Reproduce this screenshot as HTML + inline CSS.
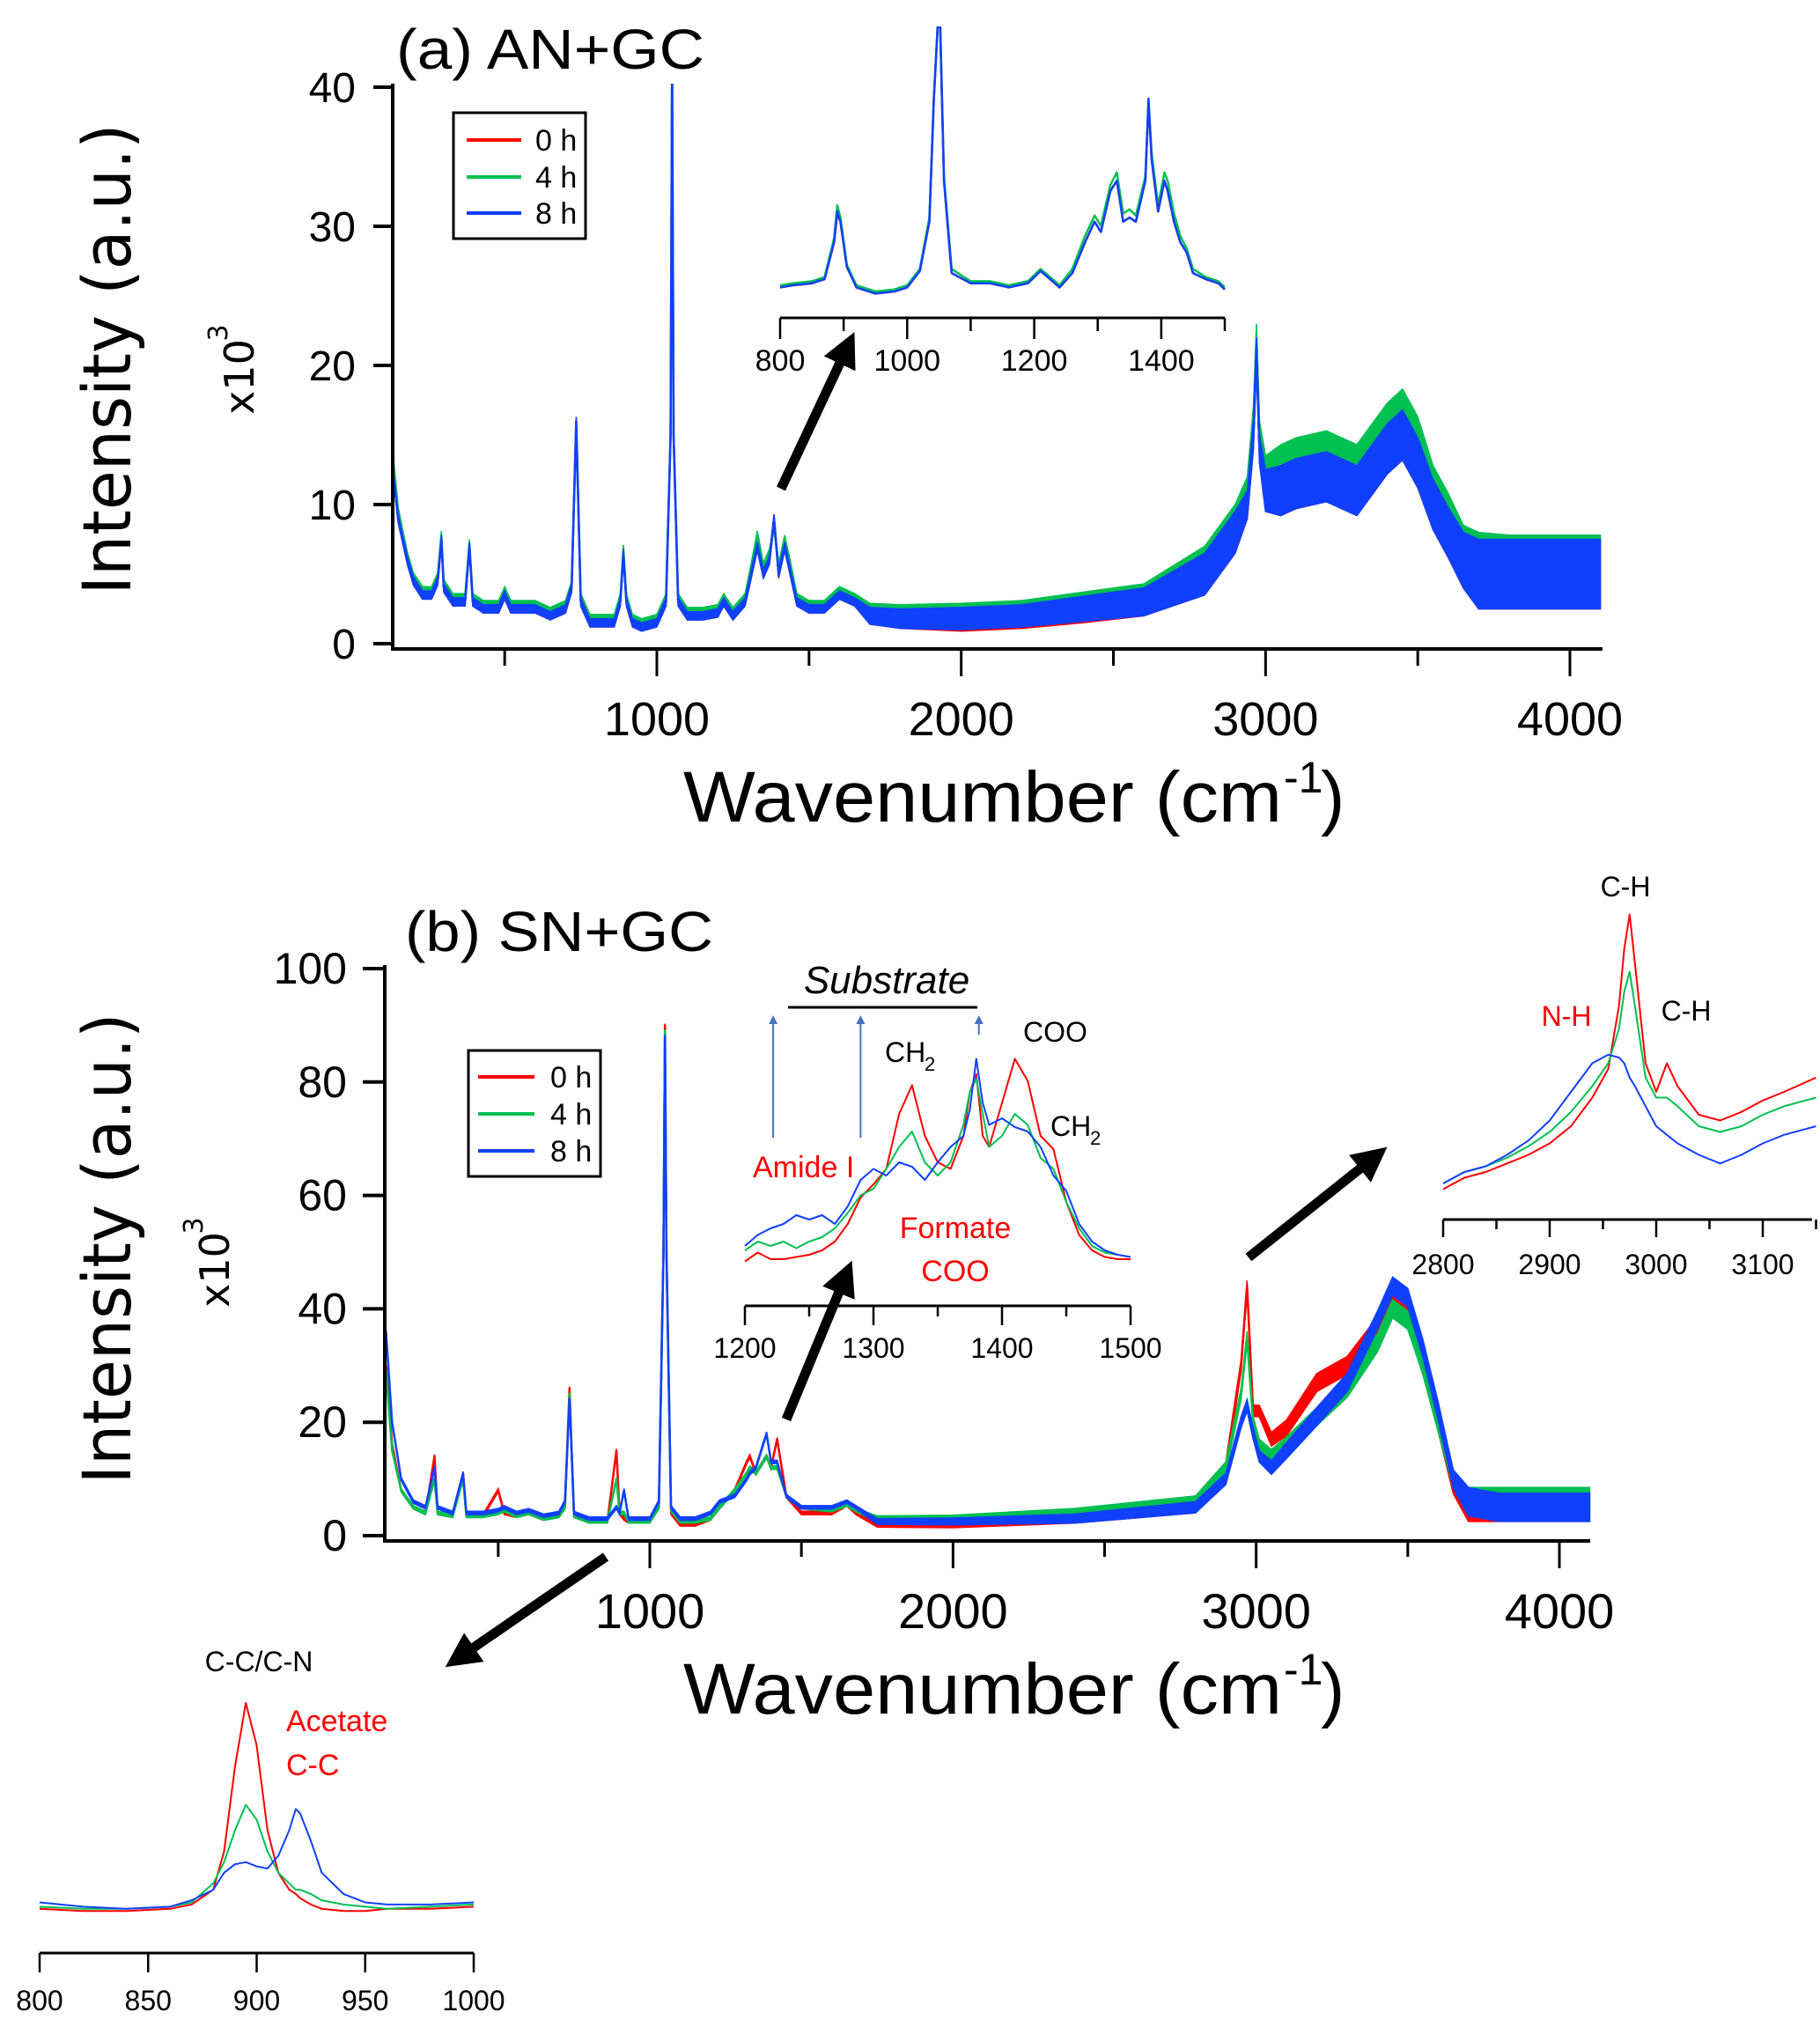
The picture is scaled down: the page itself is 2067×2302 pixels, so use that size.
<!DOCTYPE html>
<html><head><meta charset="utf-8"><style>
html,body{margin:0;padding:0;background:#fff;}
svg{display:block;font-family:"Liberation Sans",sans-serif;}
</style></head><body>
<svg id="fig" width="2067" height="2302" viewBox="0 0 2067 2302" xmlns="http://www.w3.org/2000/svg">
<defs>
<marker id="ah" viewBox="0 0 10 10" refX="5" refY="5" markerWidth="3.6" markerHeight="3.6" orient="auto"><path d="M0,0 L10,5 L0,10 z" fill="#000"/></marker>
<marker id="bh" viewBox="0 0 10 10" refX="5" refY="5" markerWidth="5" markerHeight="5" orient="auto"><path d="M0,0 L10,5 L0,10 z" fill="#4472c4"/></marker>
</defs>
<g id="layer"></g>
</svg>
<script>
// ---------- DATA ----------
const xA = [130,150,180,200,230,260,280,292,300,330,370,384,395,430,480,500,520,560,600,650,700,720,735,750,780,820,860,880,890,900,920,950,1000,1030,1045,1050,1055,1070,1100,1150,1200,1220,1250,1290,1310,1330,1350,1370,1385,1400,1420,1440,1460,1500,1550,1600,1650,1700,1800,2000,2200,2400,2600,2800,2900,2940,2960,2970,2980,3000,3050,3100,3200,3300,3400,3450,3500,3550,3600,3650,3700,3800,3900,4000,4100];
const aBlue = [13,9,6,4.5,3.5,3.5,4.5,7.5,4,3,3,7,3,2.5,2.5,3.5,2.5,2.5,2.5,2,2.5,4,16,3,1.5,1.5,1.5,3,6.5,3,1.5,1.2,1.5,3,15,42,15,3,2,2,2.2,3,2,3,5,7,5,6,9,5,7,5,3,2.5,2.5,3.5,3,2,1.8,1.8,2,2.5,3,5,8,10,15,21,14,11,11,11.5,12,11,14,15,13,10,8,6,5,5,5,5,5];
const aGreen = [14,9.5,6.3,4.8,3.8,3.8,4.8,7.8,4.3,3.3,3.3,7.2,3.3,2.8,2.8,3.8,2.8,2.8,2.8,2.3,2.8,4.2,15.5,3.3,1.8,1.8,1.8,3.3,6.8,3.3,1.8,1.5,1.8,3.3,15,41,15,3.3,2.3,2.3,2.5,3.3,2.3,3.3,5.5,7.8,5.5,6.5,8.5,5.5,7.5,5.5,3.3,2.8,2.8,3.8,3.3,2.3,2.1,2.1,2.3,2.8,3.3,5.5,8.5,11,16,22,15,12,12.5,13,13.5,12.5,15.5,16.5,14.5,11,9,6.5,5.5,5.3,5.3,5.3,5.3];
const aRed = [13,9,6,4.5,3.5,3.5,4.5,7.5,4,3,3,7,3,2.5,2.5,3.5,2.5,2.5,2.5,2,2.5,4,16,3,1.5,1.5,1.5,3,6.5,3,1.5,1.2,1.5,3,15,42,15,3,2,2,2.2,3,2,3,5,7,5,6,9,5,7,5,3,2.5,2.5,3.5,3,2,1.8,1.7,1.9,2.4,3,5,8,10,15,21,14,11,11,11.5,12,11,14,15,13,10,8,6,5,5,5,5,5];
const aNoise = [0.3,0.3,0.3,0.3,0.3,0.3,0.3,0.3,0.3,0.3,0.3,0.3,0.3,0.3,0.3,0.3,0.3,0.3,0.3,0.3,0.3,0.3,0.3,0.3,0.3,0.3,0.3,0.3,0.3,0.3,0.3,0.3,0.3,0.3,0.3,0.3,0.3,0.3,0.3,0.3,0.3,0.3,0.3,0.3,0.3,0.3,0.3,0.3,0.3,0.3,0.3,0.3,0.3,0.3,0.3,0.3,0.3,0.6,0.7,0.8,0.8,0.9,1,1.5,1.5,1,1,1,1,1.5,1.8,1.8,1.8,1.8,1.8,1.8,1.8,1.8,1.8,2,2.5,2.5,2.5,2.5,2.5];
const aYTicks = [0,10,20,30,40];
const aXTicks = [1000,2000,3000,4000];

const xAi = [800,820,850,870,885,890,895,905,920,950,980,1000,1020,1035,1042,1048,1052,1058,1070,1100,1130,1160,1190,1210,1225,1240,1260,1280,1295,1305,1320,1330,1340,1350,1360,1375,1380,1385,1395,1405,1410,1420,1430,1440,1450,1470,1490,1500];
const aiBlue = [8,9,10,12,30,45,40,18,8,5,6,8,16,40,100,135,135,60,15,10,10,8,10,16,12,8,15,30,40,35,55,60,40,42,40,60,100,70,45,60,55,40,30,25,15,12,10,7];
const aiGreen = [9,10,11,13,32,48,42,19,9,6,7,9,17,42,100,135,135,62,17,11,11,9,11,17,13,9,17,33,43,38,58,64,44,46,43,62,98,73,48,64,60,44,33,27,17,13,11,8];
const aiRed = [8,9,10,12,30,44,40,18,8,5,6,8,16,40,100,135,135,60,15,10,10,8,10,16,12,8,15,30,40,35,55,60,40,42,40,60,98,70,45,60,55,40,30,25,15,12,10,7];
const aiTicks = [800,1000,1200,1400];

const xB = [130,150,180,220,260,290,300,350,384,395,450,500,520,560,600,650,700,720,735,750,800,860,890,900,915,930,1000,1030,1045,1050,1055,1070,1100,1150,1200,1230,1280,1320,1330,1350,1385,1400,1420,1450,1500,1600,1650,1680,1750,2000,2400,2800,2900,2950,2970,2990,3010,3050,3100,3200,3300,3400,3450,3500,3550,3600,3650,3700,3800,4000,4100];
const bBlue = [36,20,10,6,5,12,5,4,11,4,4,4.5,5,4,4.5,3.5,4,6,24,4,3,3,5,4,8,3,3,6,50,88,50,5,3,3,4,6,7,10,11,12,18,13,13,7,5,5,6,5,2.5,2.5,3,5,10,20,23,18,14,12,15,21,27,38,44,42,33,22,10,6,5,5,5];
const bGreen = [29,15,8,5,4,10,4,3.5,10,3.5,3.5,4,4.5,3.5,4,3,3.5,5,25,3.5,2.5,2.5,10,4,4,2.5,2.5,5,50,89,50,4.5,2.5,2.5,3,5,8,11,12,11,14,12,12,7,5,4.5,5.5,4.5,3,3,4,6,12,25,35,20,16,14,16,21,26,34,40,38,30,20,10,6,6,6,6];
const bRed = [30,16,8,5,4,14,4,3.5,11,3.5,3.5,8,4,3.5,4,3,3.5,5,26,3.5,2.5,2.5,15,4,3,2.5,2.5,5,50,90,50,4,2,2,3,5,8,13,14,11,14,12,17,7,4,4,5.5,4,2,2,3,5,12,30,44,22,22,17,19,27,30,37,42,40,30,20,9,5,5,5,5];
const bNoise = [0.3,0.3,0.3,0.3,0.3,0.3,0.3,0.3,0.3,0.3,0.3,0.3,0.3,0.3,0.3,0.3,0.3,0.3,0.3,0.3,0.3,0.3,0.3,0.3,0.3,0.3,0.3,0.3,0.3,0.3,0.3,0.3,0.3,0.3,0.3,0.3,0.3,0.3,0.3,0.3,0.3,0.3,0.3,0.3,0.3,0.3,0.3,0.3,0.5,0.6,0.8,1,1,1,1,1,1,1.2,1.4,1.6,1.6,1.6,1.6,1.6,1.6,1.6,1.6,2.5,2.5,2.5,2.5];
const bYTicks = [0,20,40,60,80,100];
const bXTicks = [1000,2000,3000,4000];

const xB1 = [1200,1210,1220,1230,1240,1250,1260,1270,1280,1290,1300,1310,1320,1330,1340,1350,1360,1370,1375,1380,1385,1390,1400,1410,1420,1430,1440,1450,1460,1470,1480,1490,1500];
const b1Red = [3,7,4,4,5,6,8,12,20,32,38,45,70,83,60,48,45,60,80,88,60,55,75,95,85,60,54,30,15,8,5,4,4];
const b1Green = [8,12,10,12,9,12,14,18,25,33,36,45,55,62,48,42,48,65,80,86,70,55,60,70,65,50,45,30,18,10,7,6,5];
const b1Blue = [10,15,18,20,24,22,24,20,28,40,45,42,48,46,40,48,55,60,72,95,75,65,68,64,62,55,42,35,20,12,8,6,5];
const b1Ticks = [1200,1300,1400,1500];

const xB2 = [2800,2820,2840,2860,2880,2900,2920,2940,2955,2965,2970,2975,2980,2990,3000,3010,3020,3040,3060,3080,3100,3120,3150];
const b2Red = [6,10,12,15,18,22,28,38,48,70,90,102,85,50,40,50,42,32,30,33,37,40,45];
const b2Green = [8,12,14,17,21,26,33,42,50,62,75,82,70,45,38,38,35,28,26,28,32,35,38];
const b2Blue = [8,12,14,18,23,30,40,50,53,52,50,45,42,35,28,25,22,18,15,18,22,25,28];
const b2Ticks = [2800,2900,3000,3100];

const xB3 = [800,820,840,860,870,880,885,890,895,900,905,910,915,918,920,925,930,940,950,960,980,1000];
const b3Red = [3,2,2,3,5,12,30,70,100,80,40,20,12,10,8,5,3,2,2,3,3,4];
const b3Green = [4,3,3,4,6,15,25,40,52,45,30,20,15,12,12,10,7,5,4,3,4,5];
const b3Blue = [6,4,3,4,7,12,20,24,25,23,22,28,40,50,48,35,20,10,6,5,5,6];
const b3Ticks = [800,850,900,950,1000];

// ---------- DRAWING ----------
const NS = "http://www.w3.org/2000/svg";
const root = document.getElementById('layer');
const RED = "#ff0000", GREEN = "#00c050", BLUE = "#1040ff";
function mk(tag, attrs, parent) {
  const e = document.createElementNS(NS, tag);
  for (const k in attrs) e.setAttribute(k, attrs[k]);
  (parent || root).appendChild(e);
  return e;
}
function lin(d0, d1, p0, p1) { return v => p0 + (v - d0) * (p1 - p0) / (d1 - d0); }

function series(g, xs, ys, amps, sx, sy, color, w, name) {
  let pts = xs.map((x, i) => sx(x).toFixed(1) + "," + sy(ys[i]).toFixed(1)).join(" ");
  if (amps) {
    const up = xs.map((x, i) => sx(x).toFixed(1) + "," + sy(ys[i] + amps[i]).toFixed(1));
    const dn = xs.map((x, i) => sx(x).toFixed(1) + "," + sy(ys[i] - amps[i]).toFixed(1)).reverse();
    const band = mk('polygon', {points: up.concat(dn).join(" "), fill: color, stroke: color, 'stroke-width': 1.5}, g);
    
    
  }
  const l = mk('polyline', {points: pts, fill: 'none', stroke: color, 'stroke-width': w, 'stroke-linejoin': 'round'}, g);
  
  
}
function text(str, x, y, size, attrs, name) {
  const t = mk('text', Object.assign({x: x, y: y, 'font-size': size, fill: '#000'}, attrs || {}));
  t.textContent = str;
  
  
  return t;
}
function arrow(x1, y1, x2, y2, name) {
  const a = mk('line', {x1: x1, y1: y1, x2: x2, y2: y2, stroke: '#000', 'stroke-width': 11, 'marker-end': 'url(#ah)'});
  
  
}

// ===== Panel (a) main =====
{
  const sx = lin(1000, 4000, 746, 1783), sy = lin(0, 40, 731, 99);
  const g = mk('g', {});  
  const cp = mk('clipPath', {id: 'ca'}); mk('rect', {x: 446, y: 95, width: 1380, height: 640}, cp);
  g.setAttribute('clip-path', 'url(#ca)');
  series(g, xA, aRed, aNoise, sx, sy, RED, 2.5, 'series-a-0h');
  series(g, xA, aGreen, aNoise, sx, sy, GREEN, 2.5, 'series-a-4h');
  series(g, xA, aBlue, aNoise, sx, sy, BLUE, 2.5, 'series-a-8h');
  const ax = mk('path', {d: 'M446,95 L446,737 L1820,737', fill: 'none', stroke: '#000', 'stroke-width': 4});
   
  aYTicks.forEach(v => {
    const t = mk('line', {x1: 424, x2: 446, y1: sy(v), y2: sy(v), stroke: '#000', 'stroke-width': 4});
     
    text(String(v), 404, sy(v) + 17, 48, {'text-anchor': 'end'}, 'a-y-tick-label');
  });
  [500,1000,1500,2000,2500,3000,3500,4000].forEach(v => {
    const major = v % 1000 === 0;
    const t = mk('line', {x1: sx(v), x2: sx(v), y1: 737, y2: major ? 768 : 756, stroke: '#000', 'stroke-width': 3});
     
  });
  aXTicks.forEach(v => text(String(v), sx(v), 835, 54, {'text-anchor': 'middle'}, 'a-x-tick-label'));
  text('(a) AN+GC', 450, 78, 64, {textLength: 350, lengthAdjust: 'spacingAndGlyphs'}, 'panel-a-title');
  const yl = text('Intensity (a.u.)', 0, 0, 76, {'text-anchor': 'middle', transform: 'translate(148,408) rotate(-90)', textLength: 535, lengthAdjust: 'spacingAndGlyphs', 'font-family': 'DejaVu Sans, sans-serif'}, 'a-y-axis-title');
  const ym = text('x10', 0, 0, 46, {'text-anchor': 'middle', transform: 'translate(288,428) rotate(-90)', 'font-family': 'DejaVu Sans, sans-serif'}, 'a-y-multiplier');
  text('3', 0, 0, 30, {'text-anchor': 'middle', transform: 'translate(258,378) rotate(-90)', 'font-family': 'DejaVu Sans, sans-serif'}, 'a-y-multiplier-exp');
  const xl = text('Wavenumber (cm', 776, 933, 82, {textLength: 680, lengthAdjust: 'spacingAndGlyphs'}, 'a-x-axis-title');
  text('-1', 1458, 900, 50, {}, 'a-x-axis-title-sup');
  text(')', 1500, 933, 82, {}, 'a-x-axis-title-paren');
  // legend
  const lg = mk('g', {});  
  mk('rect', {x: 515, y: 128, width: 150, height: 143, fill: '#fff', stroke: '#000', 'stroke-width': 3}, lg);
  [[RED,'0 h',159],[GREEN,'4 h',201],[BLUE,'8 h',242]].forEach(r => {
    const l = mk('line', {x1: 530, x2: 592, y1: r[2], y2: r[2], stroke: r[0], 'stroke-width': 4}, lg);
     
    const t = mk('text', {x: 608, y: r[2] + 12, 'font-size': 34}, lg); t.textContent = r[1];
     
  });
}
// ===== Panel (a) inset =====
{
  const sx = lin(800, 1500, 886, 1391), sy = lin(0, 100, 345, 112);
  const g = mk('g', {});  
  const cp = mk('clipPath', {id: 'cai'}); mk('rect', {x: 880, y: 30, width: 520, height: 330}, cp);
  const gg = mk('g', {'clip-path': 'url(#cai)'}, g);
  series(gg, xAi, aiRed, null, sx, sy, RED, 2.5, 'a-inset-0h');
  series(gg, xAi, aiGreen, null, sx, sy, GREEN, 2.5, 'a-inset-4h');
  series(gg, xAi, aiBlue, null, sx, sy, BLUE, 2.5, 'a-inset-8h');
  mk('line', {x1: 886, x2: 1391, y1: 361, y2: 361, stroke: '#000', 'stroke-width': 3}, g);
  [800,900,1000,1100,1200,1300,1400,1500].forEach(v => {
    const t = mk('line', {x1: sx(v), x2: sx(v), y1: 361, y2: v % 200 === 0 ? 385 : 376, stroke: '#000', 'stroke-width': 2.5}, g);
     
  });
  aiTicks.forEach(v => text(String(v), sx(v), 421, 34, {'text-anchor': 'middle'}, 'a-inset-tick-label'));
}
arrow(887, 555, 962, 395, 'a-zoom-arrow');

// ===== Panel (b) main =====
{
  const sx = lin(1000, 4000, 738, 1771), sy = lin(0, 100, 1744, 1100);
  const g = mk('g', {});  
  const cp = mk('clipPath', {id: 'cb'}); mk('rect', {x: 437, y: 1095, width: 1370, height: 655}, cp);
  g.setAttribute('clip-path', 'url(#cb)');
  series(g, xB, bRed, bNoise, sx, sy, RED, 2.5, 'series-b-0h');
  series(g, xB, bGreen, bNoise, sx, sy, GREEN, 2.5, 'series-b-4h');
  series(g, xB, bBlue, bNoise, sx, sy, BLUE, 2.5, 'series-b-8h');
  const ax = mk('path', {d: 'M437,1096 L437,1750 L1806,1750', fill: 'none', stroke: '#000', 'stroke-width': 4});
   
  bYTicks.forEach(v => {
    const t = mk('line', {x1: 412, x2: 437, y1: sy(v), y2: sy(v), stroke: '#000', 'stroke-width': 4});
     
    text(String(v), 394, sy(v) + 17, 50, {'text-anchor': 'end'}, 'b-y-tick-label');
  });
  [500,1000,1500,2000,2500,3000,3500,4000].forEach(v => {
    const major = v % 1000 === 0;
    const t = mk('line', {x1: sx(v), x2: sx(v), y1: 1750, y2: major ? 1781 : 1768, stroke: '#000', 'stroke-width': 3});
     
  });
  bXTicks.forEach(v => text(String(v), sx(v), 1849, 56, {'text-anchor': 'middle'}, 'b-x-tick-label'));
  text('(b) SN+GC', 460, 1080, 64, {textLength: 350, lengthAdjust: 'spacingAndGlyphs'}, 'panel-b-title');
  text('Intensity (a.u.)', 0, 0, 76, {'text-anchor': 'middle', transform: 'translate(148,1418) rotate(-90)', textLength: 535, lengthAdjust: 'spacingAndGlyphs', 'font-family': 'DejaVu Sans, sans-serif'}, 'b-y-axis-title');
  text('x10', 0, 0, 46, {'text-anchor': 'middle', transform: 'translate(260,1442) rotate(-90)', 'font-family': 'DejaVu Sans, sans-serif'}, 'b-y-multiplier');
  text('3', 0, 0, 30, {'text-anchor': 'middle', transform: 'translate(230,1392) rotate(-90)', 'font-family': 'DejaVu Sans, sans-serif'}, 'b-y-multiplier-exp');
  text('Wavenumber (cm', 776, 1946, 82, {textLength: 680, lengthAdjust: 'spacingAndGlyphs'}, 'b-x-axis-title');
  text('-1', 1458, 1913, 50, {}, 'b-x-axis-title-sup');
  text(')', 1500, 1946, 82, {}, 'b-x-axis-title-paren');
  const lg = mk('g', {});  
  mk('rect', {x: 532, y: 1193, width: 150, height: 143, fill: '#fff', stroke: '#000', 'stroke-width': 3}, lg);
  [[RED,'0 h',1223],[GREEN,'4 h',1265],[BLUE,'8 h',1307]].forEach(r => {
    const l = mk('line', {x1: 543, x2: 607, y1: r[2], y2: r[2], stroke: r[0], 'stroke-width': 4}, lg);
     
    const t = mk('text', {x: 625, y: r[2] + 12, 'font-size': 34}, lg); t.textContent = r[1];
     
  });
}
// ===== Inset b1 (1200-1500) =====
{
  const sx = lin(1200, 1500, 846, 1284), sy = lin(0, 100, 1440, 1190);
  const g = mk('g', {});  
  series(g, xB1, b1Red, null, sx, sy, RED, 2, 'b1-0h');
  series(g, xB1, b1Green, null, sx, sy, GREEN, 2, 'b1-4h');
  series(g, xB1, b1Blue, null, sx, sy, BLUE, 2, 'b1-8h');
  mk('line', {x1: 846, x2: 1284, y1: 1483, y2: 1483, stroke: '#000', 'stroke-width': 3}, g);
  [1200,1250,1300,1350,1400,1450,1500].forEach(v => {
    const t = mk('line', {x1: sx(v), x2: sx(v), y1: 1483, y2: v % 100 === 0 ? 1505 : 1495, stroke: '#000', 'stroke-width': 2.5}, g);
     
  });
  b1Ticks.forEach(v => text(String(v), sx(v), 1542, 32, {'text-anchor': 'middle'}, 'b1-tick-label'));
  [1222,1290,1382].forEach(v => {
    const a = mk('line', {x1: sx(v), x2: sx(v), y1: v === 1382 ? 1175 : 1292, y2: 1158, stroke: '#4472c4', 'stroke-width': 2, 'marker-end': 'url(#bh)'}, g);
     
  });
  text('Substrate', 1007, 1128, 44, {'text-anchor': 'middle', 'font-style': 'italic'}, 'substrate-label');
  const u = mk('line', {x1: 895, x2: 1110, y1: 1144, y2: 1144, stroke: '#000', 'stroke-width': 3});
   
  text('CH', 1005, 1206, 32, {}, 'ch2-label'); text('2', 1050, 1216, 22, {}, 'ch2-sub');
  text('COO', 1162, 1183, 32, {}, 'coo-label');
  text('CH', 1193, 1290, 32, {}, 'ch2-label-2'); text('2', 1238, 1300, 22, {}, 'ch2-sub-2');
  text('Amide I', 855, 1337, 34, {fill: RED}, 'amide-label');
  text('Formate', 1085, 1406, 34, {fill: RED, 'text-anchor': 'middle'}, 'formate-label');
  text('COO', 1085, 1455, 34, {fill: RED, 'text-anchor': 'middle'}, 'formate-coo-label');
}
arrow(893, 1612, 960, 1450, 'b-zoom-arrow-1');
// ===== Inset b2 (2800-3150) =====
{
  const sx = lin(2800, 3100, 1639, 2002), sy = lin(0, 100, 1370, 1045);
  const g = mk('g', {});  
  series(g, xB2, b2Red, null, sx, sy, RED, 2, 'b2-0h');
  series(g, xB2, b2Green, null, sx, sy, GREEN, 2, 'b2-4h');
  series(g, xB2, b2Blue, null, sx, sy, BLUE, 2, 'b2-8h');
  mk('line', {x1: 1639, x2: 2058, y1: 1385, y2: 1385, stroke: '#000', 'stroke-width': 3}, g);
  [2800,2850,2900,2950,3000,3050,3100,3150].forEach(v => {
    const t = mk('line', {x1: sx(v), x2: sx(v), y1: 1385, y2: v % 100 === 0 ? 1405 : 1396, stroke: '#000', 'stroke-width': 2.5}, g);
     
  });
  b2Ticks.forEach(v => text(String(v), sx(v), 1447, 32, {'text-anchor': 'middle'}, 'b2-tick-label'));
  text('C-H', 1846, 1018, 32, {'text-anchor': 'middle'}, 'ch-label-top');
  text('N-H', 1779, 1165, 32, {fill: RED, 'text-anchor': 'middle'}, 'nh-label');
  text('C-H', 1915, 1159, 32, {'text-anchor': 'middle'}, 'ch-label-side');
}
arrow(1418, 1428, 1560, 1315, 'b-zoom-arrow-2');
// ===== Inset b3 (800-1000) =====
{
  const sx = lin(800, 1000, 45, 538), sy = lin(0, 100, 2175, 1934);
  const g = mk('g', {});  
  series(g, xB3, b3Red, null, sx, sy, RED, 2, 'b3-0h');
  series(g, xB3, b3Green, null, sx, sy, GREEN, 2, 'b3-4h');
  series(g, xB3, b3Blue, null, sx, sy, BLUE, 2, 'b3-8h');
  mk('line', {x1: 45, x2: 538, y1: 2218, y2: 2218, stroke: '#000', 'stroke-width': 3}, g);
  b3Ticks.forEach(v => {
    const t = mk('line', {x1: sx(v), x2: sx(v), y1: 2218, y2: 2240, stroke: '#000', 'stroke-width': 2.5}, g);
     
    text(String(v), sx(v), 2283, 32, {'text-anchor': 'middle'}, 'b3-tick-label');
  });
  text('C-C/C-N', 294, 1898, 32, {'text-anchor': 'middle'}, 'cc-cn-label');
  text('Acetate', 325, 1966, 34, {fill: RED}, 'acetate-label');
  text('C-C', 325, 2016, 34, {fill: RED}, 'acetate-cc-label');
}
arrow(688, 1768, 522, 1882, 'b-zoom-arrow-3');
</script>
</body></html>
